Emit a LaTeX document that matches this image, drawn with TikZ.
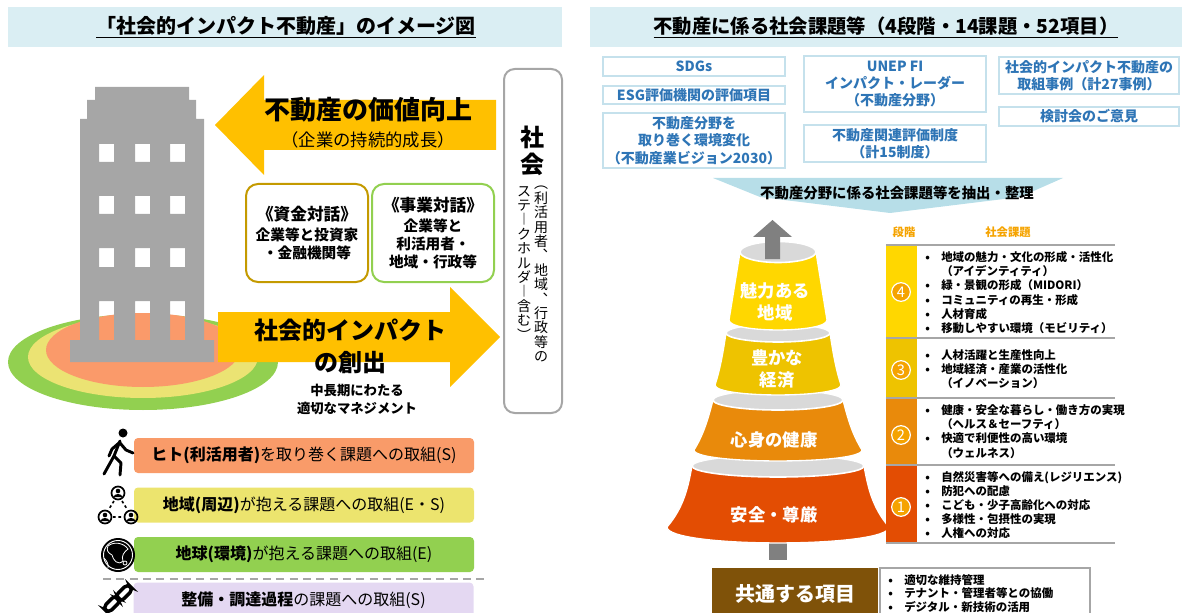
\documentclass[tikz,border=0pt]{standalone}
\usepackage{fontspec}
\setmainfont{Noto Sans CJK JP}
\definecolor{headfill}{HTML}{DAEEF3}
\definecolor{gold}{HTML}{FFC000}
\definecolor{bldg}{HTML}{A6A6A6}
\definecolor{lawn}{HTML}{92D050}
\definecolor{lawnin}{HTML}{EBE373}
\definecolor{lawncore}{HTML}{FA9A6A}
\definecolor{fundline}{HTML}{C49A00}
\definecolor{bizline}{HTML}{92D050}
\definecolor{boxgray}{HTML}{A6A6A6}
\definecolor{people}{HTML}{F99B69}
\definecolor{area}{HTML}{ECE46E}
\definecolor{earth}{HTML}{92D050}
\definecolor{supply}{HTML}{E4D8F2}
\definecolor{srcline}{HTML}{C5E1EC}
\definecolor{srctext}{HTML}{2E75B6}
\definecolor{funnel}{HTML}{B7DEE8}
\definecolor{tierA}{HTML}{E34D03}
\definecolor{tierB}{HTML}{E98A0B}
\definecolor{tierC}{HTML}{EEC300}
\definecolor{tierD}{HTML}{FFD700}
\definecolor{ringgray}{HTML}{D9D9D9}
\definecolor{arrowgray}{HTML}{808080}
\definecolor{common}{HTML}{7F5209}
\definecolor{stagehd}{HTML}{F5A300}

% one glyph per line, for the upright column text
\def\vchars#1{\ifx#1\relax\else\hbox to 1em{\hss#1\hss}\expandafter\vchars\fi}
\newcommand\bullitem{\makebox[12pt][l]{•}}
\newcommand\contline{\hspace*{12pt}}

\begin{document}
\begin{tikzpicture}[x=0.75pt,y=-0.75pt,
  title/.style={font=\bfseries\fontsize{15}{17}\selectfont},
  talk/.style={line width=1.5pt,rounded corners=9pt,fill=white,minimum width=91.5pt,minimum height=73.5pt,
    align=center,inner sep=0pt,font=\bfseries\fontsize{11}{13.5}\selectfont},
  vcol/.style={inner sep=0pt,font=\fontsize{10.5}{10.8}\selectfont},
  bar/.style={rounded corners=3pt,minimum width=255pt,minimum height=26.25pt,inner sep=0pt,
    font=\fontsize{12}{14}\selectfont},
  icon/.style={line width=2.2pt,line cap=round,line join=round},
  src/.style={draw=srcline,line width=1.5pt,fill=white,text=srctext,minimum width=136.5pt,
    align=center,inner sep=0pt,font=\bfseries\fontsize{10.5}{13}\selectfont},
  tiertext/.style={text=white,align=center,font=\bfseries\fontsize{13}{16}\selectfont},
  rule/.style={draw=boxgray,line width=1.5pt},
  stagenum/.style={circle,draw=white,fill=stagehd,text=white,line width=0.9pt,minimum size=14pt,
    inner sep=0pt,font=\fontsize{11}{11}\selectfont},
  issues/.style={anchor=west,align=left,inner sep=0pt,font=\bfseries\fontsize{8.6}{10.65}\selectfont}]
\useasboundingbox (0,0) rectangle (1189,613);
\clip (0,0) rectangle (1189,613);

% headings
\fill[headfill] (8,7) rectangle (562,47);
\fill[headfill] (590,7) rectangle (1182,47);
\node[title] (imgtitle) at (286,27) {\underline{「社会的インパクト不動産」のイメージ図}};
\node[title,font=\bfseries\fontsize{14.5}{17}\selectfont] (listtitle) at (886,27) {\underline{不動産に係る社会課題等（4段階・14課題・52項目）}};

% ground and building
\fill[lawn] (143,362) ellipse [x radius=135, y radius=48];
\fill[lawnin] (143,357) ellipse [x radius=115, y radius=41];
\fill[lawncore] (143,350) ellipse [x radius=97, y radius=37];
\fill[bldg,even odd rule] (95,87) -- (189,87) -- (189,100) -- (196,100) -- (196,119) -- (204,119)
  -- (204,340) -- (214,340) -- (214,362) -- (70,362) -- (70,340) -- (80,340) -- (80,119)
  -- (87,119) -- (87,100) -- (95,100) -- cycle
  \foreach \wx in {99,135,170} {(\wx,144) rectangle ++(15,18) (\wx,196) rectangle ++(15,18)
    (\wx,248) rectangle ++(15,19) (\wx,301) rectangle ++(15,39)};

% big arrows
\fill[gold] (215,125) -- (264,75) -- (264,100) -- (496,100) -- (496,150) -- (264,150) -- (264,175) -- cycle;
\fill[gold] (218,312) -- (450,312) -- (450,287) -- (500,337) -- (450,387) -- (450,362) -- (218,362) -- cycle;
\node[font=\bfseries\fontsize{19.5}{22}\selectfont] (value) at (368,110) {不動産の価値向上};
\node[font=\fontsize{13}{15}\selectfont] (growth) at (368,140) {（企業の持続的成長）};
\node[font=\bfseries\fontsize{18}{24}\selectfont,align=center] (impact) at (350,346) {社会的インパクト\\の創出};
\node[font=\bfseries\fontsize{10}{13.5}\selectfont,align=center] (mgmt) at (357,399) {中長期にわたる\\適切なマネジメント};

% dialogues
\node[talk,draw=fundline] (fund) at (307,233) {{\fontsize{12.5}{15}\selectfont 《資金対話》}\\[2pt]企業等と投資家\\・金融機関等};
\node[talk,draw=bizline] (biz) at (433,233) {{\fontsize{12.5}{15}\selectfont 《事業対話》}\\[2pt]企業等と\\利活用者・\\地域・行政等};

% society
\node[draw=boxgray,line width=1.5pt,rounded corners=8pt,minimum width=43.5pt,minimum height=258pt] (society) at (533,241) {};
\node[font=\bfseries\fontsize{18}{20}\selectfont,align=center] (socname) at (532,151) {社\\会};
\node[vcol,anchor=north] (stakeR) at (541,186) {\vbox{\vchars ︵利活用者︑地域︑行政等の\relax}};
\node[vcol,anchor=north] (stakeL) at (524,186) {\vbox{\vchars ステ︱クホルダ︱含む︶\relax}};

% initiatives
\node[bar,fill=people] (peoplebar) at (304,455.5) {\textbf{ヒト(利活用者)}を取り巻く課題への取組(S)};
\node[bar,fill=area] (areabar) at (304,505) {\textbf{地域(周辺)}が抱える課題への取組(E・S)};
\node[bar,fill=earth] (earthbar) at (304,554.5) {\textbf{地球(環境)}が抱える課題への取組(E)};
\draw[boxgray,line width=1.5pt,dash pattern=on 6pt off 4pt] (103,579) -- (488,579);
\node[bar,fill=supply] (supplybar) at (303.5,600) {\textbf{整備・調達過程}の課題への取組(S)};

% walker
\fill (123,433) circle (4.5);
\draw[icon] (120,441) -- (114,456) -- (109,465) -- (104,474);
\draw[icon] (114,456) -- (121,463) -- (120,475);
\draw[icon] (119,443) -- (112,449) -- (109,456);
\draw[icon] (120,443) -- (126,450) -- (133,453);
% neighbours
\foreach \px/\py in {118/493,105/517,131/517} {
  \draw[line width=1.3pt] (\px,\py) circle (6.5);
  \fill (\px,\py-2) circle (2.3);
  \fill (\px-4.5,\py+4) .. controls (\px-4,\py) and (\px+4,\py) .. (\px+4.5,\py+4) -- cycle;
}
\draw[line width=1.2pt,dash pattern=on 2pt off 2pt] (114,501) -- (109,509) (122,501) -- (127,509) (113,517) -- (123,517);
% globe
\fill (118,555) circle (17);
\draw[white,line width=0.7pt] (118,555) circle (14.5);
\draw[white,line width=0.6pt] (108,546) .. controls (114,541) and (124,543) .. (128,549) .. controls (124,552) and (121,556) .. (123,561)
  .. controls (118,566) and (113,560) .. (112,555) .. controls (108,553) and (106,550) .. (108,546) -- cycle;
\draw[white,line width=0.6pt] (125,563) circle (2) (104,558) .. controls (107,561) and (109,565) .. (108,568);

% chain
\draw[line width=2.6pt,rounded corners=3.5pt,rotate around={45:(112,604)}] (103,600) rectangle (121,608);
\draw[line width=2.6pt,rounded corners=3.5pt,rotate around={45:(124,593)}] (115,589) rectangle (133,597);

% sources
\node[src,minimum height=14.25pt] (sdgs) at (694,66.5) {SDGs};
\node[src,minimum height=13.5pt] (esg) at (694,95) {ESG評価機関の評価項目};
\node[src,minimum height=41.25pt] (vision) at (694,140.5) {不動産分野を\\取り巻く環境変化\\（不動産業ビジョン2030）};
\node[src,minimum height=42pt] (unep) at (895,84) {UNEP FI\\インパクト・レーダー\\（不動産分野）};
\node[src,minimum height=27.75pt] (rating) at (895,143.5) {不動産関連評価制度\\（計15制度）};
\node[src,minimum width=135pt,minimum height=27.75pt] (cases) at (1089,75.5) {社会的インパクト不動産の\\取組事例（計27事例）};
\node[src,minimum width=135pt,minimum height=14.25pt] (opinion) at (1089,116.5) {検討会のご意見};

% funnel banner
\fill[funnel] (713,178) -- (1063,178) -- (1020,197) -- (890,213) -- (760,197) -- cycle;
\node[font=\bfseries\fontsize{10.8}{13}\selectfont] (extract) at (897,193) {不動産分野に係る社会課題等を抽出・整理};

% stacked cone, lowest tier first
\fill[arrowgray] (769,530) rectangle (787,560);
\foreach \yt/\wt/\rt/\yb/\wb/\rb/\fl/\tc in {466/86/11/527/111/16/9/tierA,400/65/10/450/84/11/4/tierB,
    333/52/9/385/63/10/2/tierC,252/38/10.5/320/49/10/0/tierD} {
  \filldraw[\tc,draw=white,line width=1pt] (778-\wt,\yt)
    .. controls (778-\wt-\wb/3+\wt/3+\fl/2,\yt/1.5+\yb/3) and (778-\wt-2*\wb/3+2*\wt/3+\fl,\yt/3+\yb/1.5) .. (778-\wb,\yb)
    .. controls (778-\wb,\yb+1.33*\rb) and (778+\wb,\yb+1.33*\rb) .. (778+\wb,\yb)
    .. controls (778+\wt+2*\wb/3-2*\wt/3-\fl,\yt/3+\yb/1.5) and (778+\wt+\wb/3-\wt/3-\fl/2,\yt/1.5+\yb/3) .. (778+\wt,\yt) -- cycle;
  \filldraw[ringgray,draw=white,line width=1.2pt] (778,\yt) ellipse [x radius=\wt, y radius=\rt];
}
\fill[arrowgray] (765,259) -- (765,237) -- (753,237) -- (772.5,220) -- (792,237) -- (780,237) -- (780,259) -- cycle;
\node[tiertext] (tier4) at (775,302) {魅力ある\\地域};
\node[tiertext] (tier3) at (777,369) {豊かな\\経済};
\node[tiertext] (tier2) at (774,440) {心身の健康};
\node[tiertext] (tier1) at (774,515) {安全・尊厳};

% stage table
\fill[tierD] (886,245) rectangle (917,338);
\fill[tierC] (886,338) rectangle (917,398);
\fill[tierB] (886,398) rectangle (917,465);
\fill[tierA] (886,465) rectangle (917,543);
\foreach \ly in {245,338,398,465,543} \draw[rule] (886,\ly) -- (1115,\ly);
\node[text=stagehd,font=\bfseries\fontsize{8.5}{10}\selectfont] (stagehead) at (904,232) {段階};
\node[text=stagehd,font=\bfseries\fontsize{8.5}{10}\selectfont] (issuehead) at (1008,232) {社会課題};
\node[stagenum] (st4) at (901,292) {4};
\node[stagenum] (st3) at (901,370) {3};
\node[stagenum] (st2) at (901,435) {2};
\node[stagenum] (st1) at (901,507) {1};
\node[issues] (is4) at (925,292.5) {\bullitem 地域の魅力・文化の形成・活性化\\\contline（アイデンティティ）\\
  \bullitem 緑・景観の形成（MIDORI）\\\bullitem コミュニティの再生・形成\\\bullitem 人材育成\\
  \bullitem 移動しやすい環境（モビリティ）};
\node[issues] (is3) at (925,369) {\bullitem 人材活躍と生産性向上\\\bullitem 地域経済・産業の活性化\\\contline（イノベーション）};
\node[issues] (is2) at (925,431.5) {\bullitem 健康・安全な暮らし・働き方の実現\\\contline（ヘルス＆セーフティ）\\
  \bullitem 快適で利便性の高い環境\\\contline（ウェルネス）};
\node[issues] (is1) at (925,505) {\bullitem 自然災害等への備え(レジリエンス)\\\bullitem 防犯への配慮\\
  \bullitem こども・少子高齢化への対応\\\bullitem 多様性・包摂性の実現\\\bullitem 人権への対応};

% common items
\node[fill=common,text=white,minimum width=124.5pt,minimum height=39pt,font=\bfseries\fontsize{15}{18}\selectfont] (common) at (795,594) {共通する項目};
\node[rule,fill=white,minimum width=157.5pt,minimum height=39pt] (commonbox) at (985,594) {};
\node[issues,font=\bfseries\fontsize{8.6}{10.1}\selectfont] (commonlist) at (888,593.5) {\bullitem 適切な維持管理\\
  \bullitem テナント・管理者等との協働\\\bullitem デジタル・新技術の活用};
\end{tikzpicture}
\end{document}
